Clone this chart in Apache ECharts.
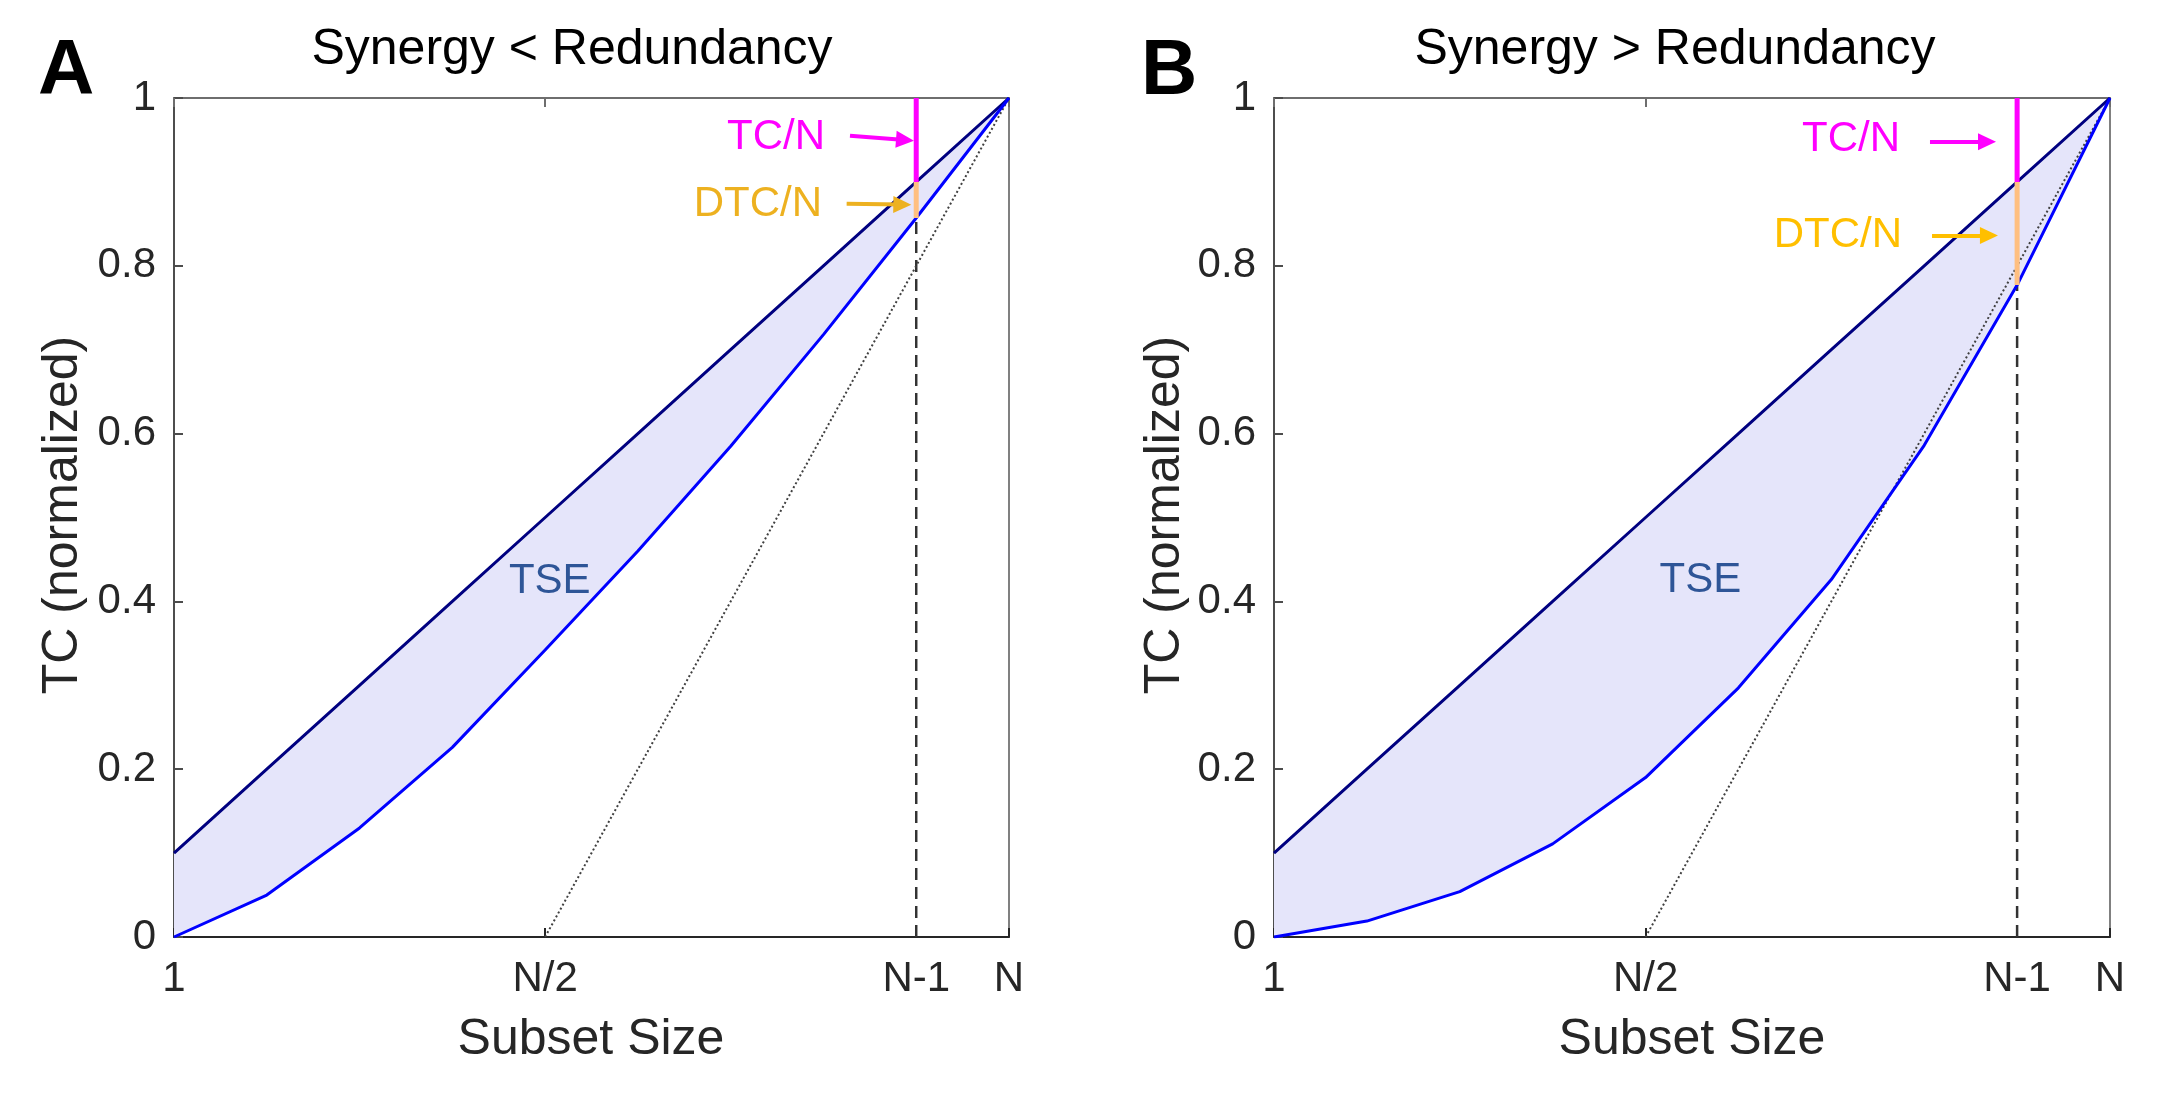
<!DOCTYPE html>
<html><head><meta charset="utf-8">
<script src="https://cdn.jsdelivr.net/npm/echarts@6/dist/echarts.min.js"></script>
<style>html,body{margin:0;padding:0;background:#fff}#c{width:2160px;height:1097px}</style>
</head><body><div id="c"></div>
<script>
// ---------------- data ----------------
const subsetSize = [1, 2, 3, 4, 5, 6, 7, 8, 9, 10];
const tcUpper   = [0.1, 0.2, 0.3, 0.4, 0.5, 0.6, 0.7, 0.8, 0.9, 1.0];
const tcLowerA  = [0, 0.050, 0.130, 0.226, 0.342, 0.460, 0.585, 0.718, 0.857, 1.0];
const tcLowerB  = [0, 0.019, 0.054, 0.111, 0.190, 0.297, 0.426, 0.586, 0.777, 1.0];
const refX      = [5, 6, 7, 8, 9, 10];
const refY      = [0, 0.2, 0.4, 0.6, 0.8, 1.0];
const xTickValues = [1, 5, 9, 10];
const xTickLabels = ['1', 'N/2', 'N-1', 'N'];
const yTickValues = [0, 0.2, 0.4, 0.6, 0.8, 1];
const titles = ['Synergy < Redundancy', 'Synergy > Redundancy'];
const panelLetters = ['A', 'B'];
const markIndex = 8; // N-1

// ---------------- layout ----------------
const FONT = '"Liberation Sans", Arial, Helvetica, sans-serif';
const grids = [
  {left: 174, top: 98, width: 835, height: 839},
  {left: 1274, top: 98, width: 836, height: 839}
];
const panels = [
  {lower: tcLowerA, dtcColor: '#EDB120',
   tcArrow: [[8.286, 0.955], [8.879, 0.950]], dtcArrow: [[8.25, 0.874], [8.85, 0.873]],
   tcText: [8.017, 0.953], dtcText: [7.985, 0.873], tse: [5.05, 0.424],
   titleX: 572, letterX: 38, xNameX: 591, yNameX: 63},
  {lower: tcLowerB, dtcColor: '#FFBF00',
   tcArrow: [[8.062, 0.948], [8.676, 0.948]], dtcArrow: [[8.084, 0.836], [8.697, 0.836]],
   tcText: [7.739, 0.951], dtcText: [7.761, 0.836], tse: [5.59, 0.425],
   titleX: 1675, letterX: 1141, xNameX: 1692, yNameX: 1165}
];

const chart = echarts.init(document.getElementById('c'), null, {renderer: 'canvas'});

const xAxes = [], yAxes = [], series = [];
panels.forEach((p, g) => {
  xAxes.push({
    type: 'value', gridIndex: g, min: 1, max: 10, position: 'bottom',
    axisLine: {show: true, onZero: false, lineStyle: {color: '#262626', width: 2}},
    axisTick: {show: true, inside: true, length: 9, customValues: xTickValues, lineStyle: {color: '#262626', width: 2}},
    axisLabel: {show: true, customValues: xTickValues, showMinLabel: true, showMaxLabel: true, margin: 21,
      fontSize: 42, fontFamily: FONT, color: '#262626',
      formatter: v => { const i = xTickValues.indexOf(Math.round(v)); return i >= 0 ? xTickLabels[i] : ''; }},
    splitLine: {show: false}
  });
  xAxes.push({
    type: 'value', gridIndex: g, min: 1, max: 10, position: 'top',
    axisLine: {show: true, onZero: false, lineStyle: {color: '#6e6e6e', width: 2}},
    axisTick: {show: true, inside: true, length: 9, customValues: xTickValues, lineStyle: {color: '#6e6e6e', width: 2}},
    axisLabel: {show: false}, splitLine: {show: false}
  });
  yAxes.push({
    type: 'value', gridIndex: g, min: 0, max: 1, interval: 0.2, position: 'left',
    axisLine: {show: true, onZero: false, lineStyle: {color: '#4d4d4d', width: 2}},
    axisTick: {show: true, inside: true, length: 9, lineStyle: {color: '#4d4d4d', width: 2}},
    axisLabel: {show: true, margin: 18, fontSize: 42, fontFamily: FONT, color: '#262626',
      showMinLabel: true, showMaxLabel: true,
      formatter: v => String(+(+v).toFixed(1))},
    splitLine: {show: false}
  });
  yAxes.push({
    type: 'value', gridIndex: g, min: 0, max: 1, interval: 0.2, position: 'right',
    axisLine: {show: true, onZero: false, lineStyle: {color: '#808080', width: 2}},
    axisTick: {show: false}, axisLabel: {show: false}, splitLine: {show: false}
  });

  const xi = 2 * g, yi = 2 * g;
  const lower = p.lower;
  // fill between curves
  series.push({
    type: 'custom', xAxisIndex: xi, yAxisIndex: yi, silent: true, z: 1,
    data: [[1, 0]], encode: {x: 0, y: 1},
    renderItem: (params, api) => {
      const pts = [];
      subsetSize.forEach((x, i) => pts.push(api.coord([x, tcUpper[i]])));
      for (let i = subsetSize.length - 1; i >= 0; i--) pts.push(api.coord([subsetSize[i], lower[i]]));
      return {type: 'polygon', shape: {points: pts}, style: {fill: '#e5e5fa'}};
    }
  });
  // dashed vertical at N-1
  series.push({
    type: 'line', xAxisIndex: xi, yAxisIndex: yi, symbol: 'none', silent: true, z: 2,
    data: [[subsetSize[markIndex], 0], [subsetSize[markIndex], lower[markIndex]]],
    lineStyle: {color: '#333333', width: 2.5, type: [12, 7]}
  });
  // dotted reference line
  series.push({
    type: 'line', xAxisIndex: xi, yAxisIndex: yi, symbol: 'none', silent: true, z: 3,
    data: refX.map((x, i) => [x, refY[i]]),
    lineStyle: {color: '#404040', width: 2, type: [2, 2.5]}
  });
  // upper line
  series.push({
    type: 'line', xAxisIndex: xi, yAxisIndex: yi, symbol: 'none', silent: true, z: 4,
    data: subsetSize.map((x, i) => [x, tcUpper[i]]),
    lineStyle: {color: '#000080', width: 3}
  });
  // lower curve
  series.push({
    type: 'line', xAxisIndex: xi, yAxisIndex: yi, symbol: 'none', silent: true, z: 4,
    data: subsetSize.map((x, i) => [x, lower[i]]),
    lineStyle: {color: '#0000ff', width: 3}
  });
  // magenta TC/N segment + arrow
  series.push({
    type: 'line', xAxisIndex: xi, yAxisIndex: yi, symbol: 'none', silent: true, z: 5,
    data: [[subsetSize[markIndex], tcUpper[markIndex]], [subsetSize[markIndex], 1]],
    lineStyle: {color: '#ff00ff', width: 5},
    markLine: {silent: true, symbol: ['none', 'triangle'], symbolSize: [17, 18], label: {show: false},
      lineStyle: {color: '#ff00ff', width: 4, type: 'solid'},
      data: [[{coord: p.tcArrow[0]}, {coord: p.tcArrow[1]}]]}
  });
  // orange DTC/N segment + arrow
  series.push({
    type: 'line', xAxisIndex: xi, yAxisIndex: yi, symbol: 'none', silent: true, z: 5,
    data: [[subsetSize[markIndex], lower[markIndex]], [subsetSize[markIndex], tcUpper[markIndex]]],
    lineStyle: {color: '#ffbf80', width: 5},
    markLine: {silent: true, symbol: ['none', 'triangle'], symbolSize: [17, 18], label: {show: false},
      lineStyle: {color: p.dtcColor, width: 4, type: 'solid'},
      data: [[{coord: p.dtcArrow[0]}, {coord: p.dtcArrow[1]}]]}
  });
});

chart.setOption({
  animation: false,
  backgroundColor: '#ffffff',
  grid: grids.map(g => Object.assign({containLabel: false, show: false}, g)),
  xAxis: xAxes, yAxis: yAxes, series: series
});

// text annotations positioned in data coordinates
const graphics = [];
panels.forEach((p, g) => {
  const px = d => chart.convertToPixel({gridIndex: g}, d);
  const t1 = px(p.tcText), t2 = px(p.dtcText), t3 = px(p.tse);
  graphics.push({type: 'text', x: t1[0], y: t1[1], z: 10, style: {text: 'TC/N', fill: '#ff00ff', font: '42px ' + FONT, textAlign: 'right', textVerticalAlign: 'middle'}});
  graphics.push({type: 'text', x: t2[0], y: t2[1], z: 10, style: {text: 'DTC/N', fill: p.dtcColor, font: '42px ' + FONT, textAlign: 'right', textVerticalAlign: 'middle'}});
  graphics.push({type: 'text', x: t3[0], y: t3[1], z: 10, style: {text: 'TSE', fill: '#2e5597', font: '42px ' + FONT, textAlign: 'center', textVerticalAlign: 'middle'}});
  graphics.push({type: 'text', x: p.titleX, y: 50, style: {text: titles[g], fill: '#000000', font: '50px ' + FONT, textAlign: 'center', textVerticalAlign: 'middle'}});
  graphics.push({type: 'text', x: p.letterX, y: 72, style: {text: panelLetters[g], fill: '#000000', font: 'bold 78px ' + FONT, textAlign: 'left', textVerticalAlign: 'middle'}});
  graphics.push({type: 'text', x: p.xNameX, y: 1040, style: {text: 'Subset Size', fill: '#262626', font: '50px ' + FONT, textAlign: 'center', textVerticalAlign: 'middle'}});
  graphics.push({type: 'text', x: p.yNameX, y: 515, rotation: Math.PI / 2, style: {text: 'TC (normalized)', fill: '#262626', font: '50px ' + FONT, textAlign: 'center', textVerticalAlign: 'middle'}});
});
chart.setOption({graphic: graphics});
</script></body></html>
